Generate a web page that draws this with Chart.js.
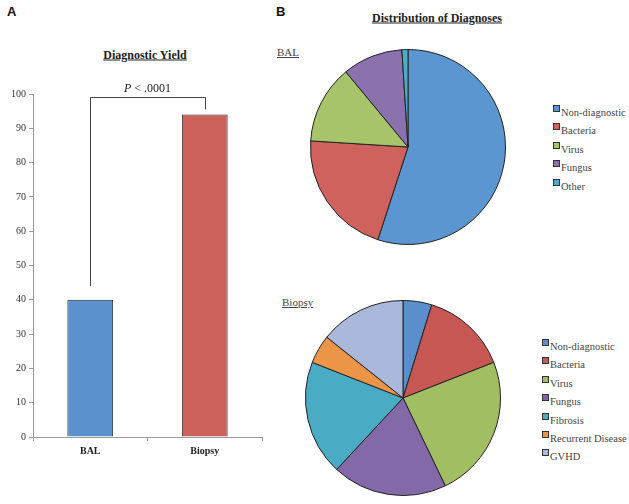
<!DOCTYPE html>
<html>
<head>
<meta charset="utf-8">
<script src="https://cdn.jsdelivr.net/npm/chart.js@4.4.1/dist/chart.umd.min.js"></script>
<style>
  html, body { margin: 0; padding: 0; background: #fff; }
  body { width: 629px; height: 504px; position: relative; overflow: hidden; font-family: "Liberation Serif", serif; color: #333; }
  .abs { position: absolute; white-space: nowrap; }
  .panel { font-family: "Liberation Sans", Arial, sans-serif; font-weight: bold; font-size: 13px; color: #111; }
  .title { font-weight: bold; font-size: 12px; text-decoration: underline; color: #222; transform: translate(-50%, -50%); }
  .sub { font-size: 11px; text-decoration: underline; color: #444; transform: translateY(-50%); }
  .legend { font-size: 10.5px; color: #444; }
  .legend div { position: absolute; left: 0; height: 18px; line-height: 18px; }
  .legend span.box { display: inline-block; width: 5px; height: 5px; border: 1px solid #333; margin-right: 1px; vertical-align: 4px; }
  canvas { position: absolute; }
</style>
</head>
<body>
<div class="abs panel" style="left:7px; top:4px;">A</div>
<div class="abs panel" style="left:276px; top:4px;">B</div>
<div class="abs title" style="left:145px; top:55px;">Diagnostic Yield</div>
<div class="abs title" style="left:437px; top:18px;">Distribution of Diagnoses</div>
<div class="abs sub" style="left:277px; top:52px;">BAL</div>
<div class="abs sub" style="left:282px; top:302px;">Biopsy</div>

<canvas id="yieldChart" style="left:0; top:0;" width="270" height="470"></canvas>
<canvas id="balPie" style="left:310px; top:49px;" width="196" height="196"></canvas>
<canvas id="biopsyPie" style="left:305px; top:300px;" width="196" height="196"></canvas>

<div id="balLegend" class="abs legend" style="left:553px; top:104px;"></div>
<div id="biopsyLegend" class="abs legend" style="left:542px; top:338px;"></div>

<script>
const barLabels = ["BAL", "Biopsy"];
const yieldValues = [40, 94];
const barColors = ["#5B91CC", "#CD625D"];

// bracket levels (percent)
const bracketLeftBottom = 44;
const bracketTop = 99;
const bracketRightBottom = 95.5;

const balCategories = ["Non-diagnostic", "Bacteria", "Virus", "Fungus", "Other"];
const balValues = [55, 21, 13, 10, 1];
const balColors = ["#5C96D0", "#CF625D", "#A8C46A", "#8B71AE", "#4BADC7"];

const biopsyCategories = ["Non-diagnostic", "Bacteria", "Virus", "Fungus", "Fibrosis", "Recurrent Disease", "GVHD"];
const biopsyValues = [1, 3, 5, 4, 4, 1, 3];
const biopsyColors = ["#5A8FCB", "#C65753", "#A2BE63", "#8469A8", "#4AABC5", "#EC9549", "#A9B8DB"];

const serif = "'Liberation Serif', serif";

const bracketPlugin = {
  id: "bracket",
  afterDatasetsDraw(chart) {
    const { ctx, scales } = chart;
    const x1 = scales.x.getPixelForValue(0);
    const x2 = scales.x.getPixelForValue(1);
    const yTop = scales.y.getPixelForValue(bracketTop);
    ctx.save();
    ctx.strokeStyle = "#444";
    ctx.lineWidth = 1;
    ctx.beginPath();
    ctx.moveTo(Math.round(x1) + 0.5, scales.y.getPixelForValue(bracketLeftBottom));
    ctx.lineTo(Math.round(x1) + 0.5, Math.round(yTop) + 0.5);
    ctx.lineTo(Math.round(x2) + 0.5, Math.round(yTop) + 0.5);
    ctx.lineTo(Math.round(x2) + 0.5, scales.y.getPixelForValue(bracketRightBottom));
    ctx.stroke();

    const mid = (x1 + x2) / 2;
    const ty = yTop - 9;
    ctx.fillStyle = "#222";
    ctx.textBaseline = "middle";
    ctx.font = "italic 12px " + serif;
    const pW = ctx.measureText("P").width;
    ctx.font = "12px " + serif;
    const rest = " < .0001";
    const rW = ctx.measureText(rest).width;
    const start = mid - (pW + rW) / 2;
    ctx.font = "italic 12px " + serif;
    ctx.fillText("P", start, ty);
    ctx.font = "12px " + serif;
    ctx.fillText(rest, start + pW, ty);
    ctx.restore();
  }
};

new Chart(document.getElementById("yieldChart"), {
  type: "bar",
  data: {
    labels: barLabels,
    datasets: [{
      data: yieldValues,
      backgroundColor: barColors,
      borderColor: "#2a2a2a",
      borderWidth: 1,
      barPercentage: 0.4,
      categoryPercentage: 1
    }]
  },
  options: {
    responsive: false,
    animation: false,
    layout: { padding: { top: 94, right: 8, left: 0, bottom: 0 } },
    plugins: { legend: { display: false }, tooltip: { enabled: false } },
    scales: {
      x: {
        afterFit: (s) => { s.height = 33; },
        grid: { display: true, drawOnChartArea: false, drawTicks: true, tickLength: 4, color: "#999" },
        border: { display: true, color: "#999" },
        ticks: { color: "#222", font: { family: serif, size: 10, weight: "bold" }, padding: 4 }
      },
      y: {
        min: 0,
        max: 100,
        afterFit: (s) => { s.width = 33; },
        grid: { display: true, drawOnChartArea: false, drawTicks: true, tickLength: 4, color: "#999" },
        border: { display: true, color: "#999" },
        ticks: { stepSize: 10, color: "#333", font: { family: serif, size: 10 }, padding: 3 }
      }
    }
  },
  plugins: [bracketPlugin]
});

function makePie(id, labels, values, colors) {
  new Chart(document.getElementById(id), {
    type: "pie",
    data: {
      labels,
      datasets: [{ data: values, backgroundColor: colors, borderColor: "#222", borderWidth: 1 }]
    },
    options: {
      responsive: false,
      animation: false,
      layout: { padding: 0 },
      plugins: { legend: { display: false }, tooltip: { enabled: false } }
    }
  });
}

function makeLegend(id, labels, colors) {
  const box = document.getElementById(id);
  labels.forEach((label, i) => {
    const row = document.createElement("div");
    row.style.top = (i * 18.4) + "px";
    row.innerHTML = '<span class="box" style="background:' + colors[i] + '"></span>' + label;
    box.appendChild(row);
  });
}

makePie("balPie", balCategories, balValues, balColors);
makePie("biopsyPie", biopsyCategories, biopsyValues, biopsyColors);
makeLegend("balLegend", balCategories, balColors);
makeLegend("biopsyLegend", biopsyCategories, biopsyColors);
</script>
</body>
</html>
